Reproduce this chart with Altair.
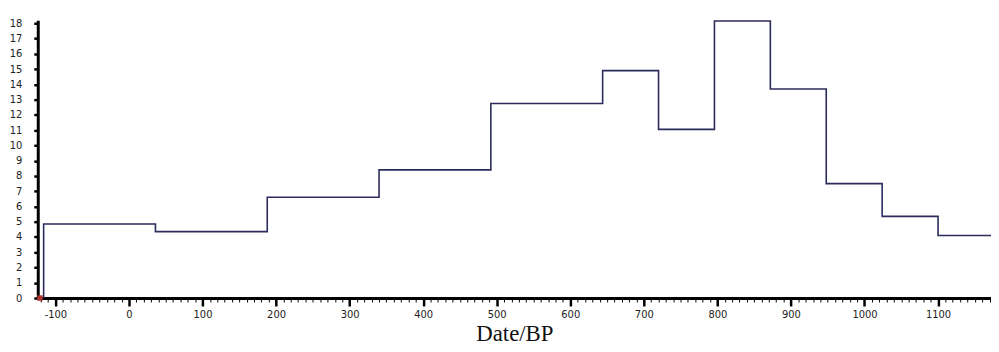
import altair as alt
import pandas as pd

# Bin edges (Date/BP) and histogram counts
edges = [-116, 36, 188, 340, 492, 644, 720, 796, 872, 948, 1024, 1100, 1176]
counts = [4.85, 4.35, 6.6, 8.4, 12.75, 14.9, 11.05, 18.15, 13.7, 7.5, 5.35, 4.1]

x_major = list(range(-100, 1101, 100))
x_minor = list(range(-120, 1171, 10))
y_ticks = list(range(0, 19))

xs = [edges[0]] + edges
ys = [0] + counts + [counts[-1]]
df = pd.DataFrame({"date": xs, "count": ys, "order": list(range(len(xs)))})
origin = pd.DataFrame({"date": [-121], "count": [0]})

xscale = alt.Scale(domain=[-124, 1172], nice=False, zero=False)
yscale = alt.Scale(domain=[0, 18.2], nice=False, zero=False)

yaxis = alt.Axis(values=y_ticks, title=None, grid=False, orient="left",
                 domainColor="black", domainWidth=3,
                 tickColor="black", tickWidth=2.5, tickSize=4,
                 labelFont="DejaVu Sans", labelFontSize=10,
                 labelExpr="datum.value + ''",
                 labelColor="#222", labelPadding=12)

line = alt.Chart(df).mark_line(
    interpolate="step-after", color="#2b2b5c", strokeWidth=1.6
).encode(
    x=alt.X("date:Q", scale=xscale,
            axis=alt.Axis(values=x_major, title="Date/BP", grid=False,
                          orient="bottom",
                          domainColor="black", domainWidth=3,
                          tickColor="black", tickWidth=2.5, tickSize=8,
                          labelFont="DejaVu Sans", labelFontSize=10,
                          labelExpr="datum.value + ''",
                          labelColor="#222", labelPadding=4,
                          titleFont="Liberation Serif", titleFontSize=23,
                          titleFontWeight="normal", titleColor="#111",
                          titlePadding=3)),
    y=alt.Y("count:Q", scale=yscale, axis=yaxis),
    order="order:Q",
)

marker = alt.Chart(origin).mark_point(
    shape="square", filled=True, color="#b03030", size=30, opacity=1
).encode(
    x=alt.X("date:Q", scale=xscale,
            axis=alt.Axis(values=x_minor, title=None, labels=False, grid=False,
                          orient="bottom", domain=False, tickColor="black",
                          tickWidth=1, tickSize=4)),
    y=alt.Y("count:Q", scale=yscale, axis=yaxis),
)

chart = alt.layer(line, marker).resolve_axis(x="independent").properties(
    width=961, height=280,
    background="white",
    autosize=alt.AutoSizeParams(type="none"),
    padding={"left": 30, "top": 11, "right": 0, "bottom": 52},
).configure_view(stroke="transparent", strokeWidth=0)

chart.save("out.html", embed_options={"renderer": "svg", "actions": False})
